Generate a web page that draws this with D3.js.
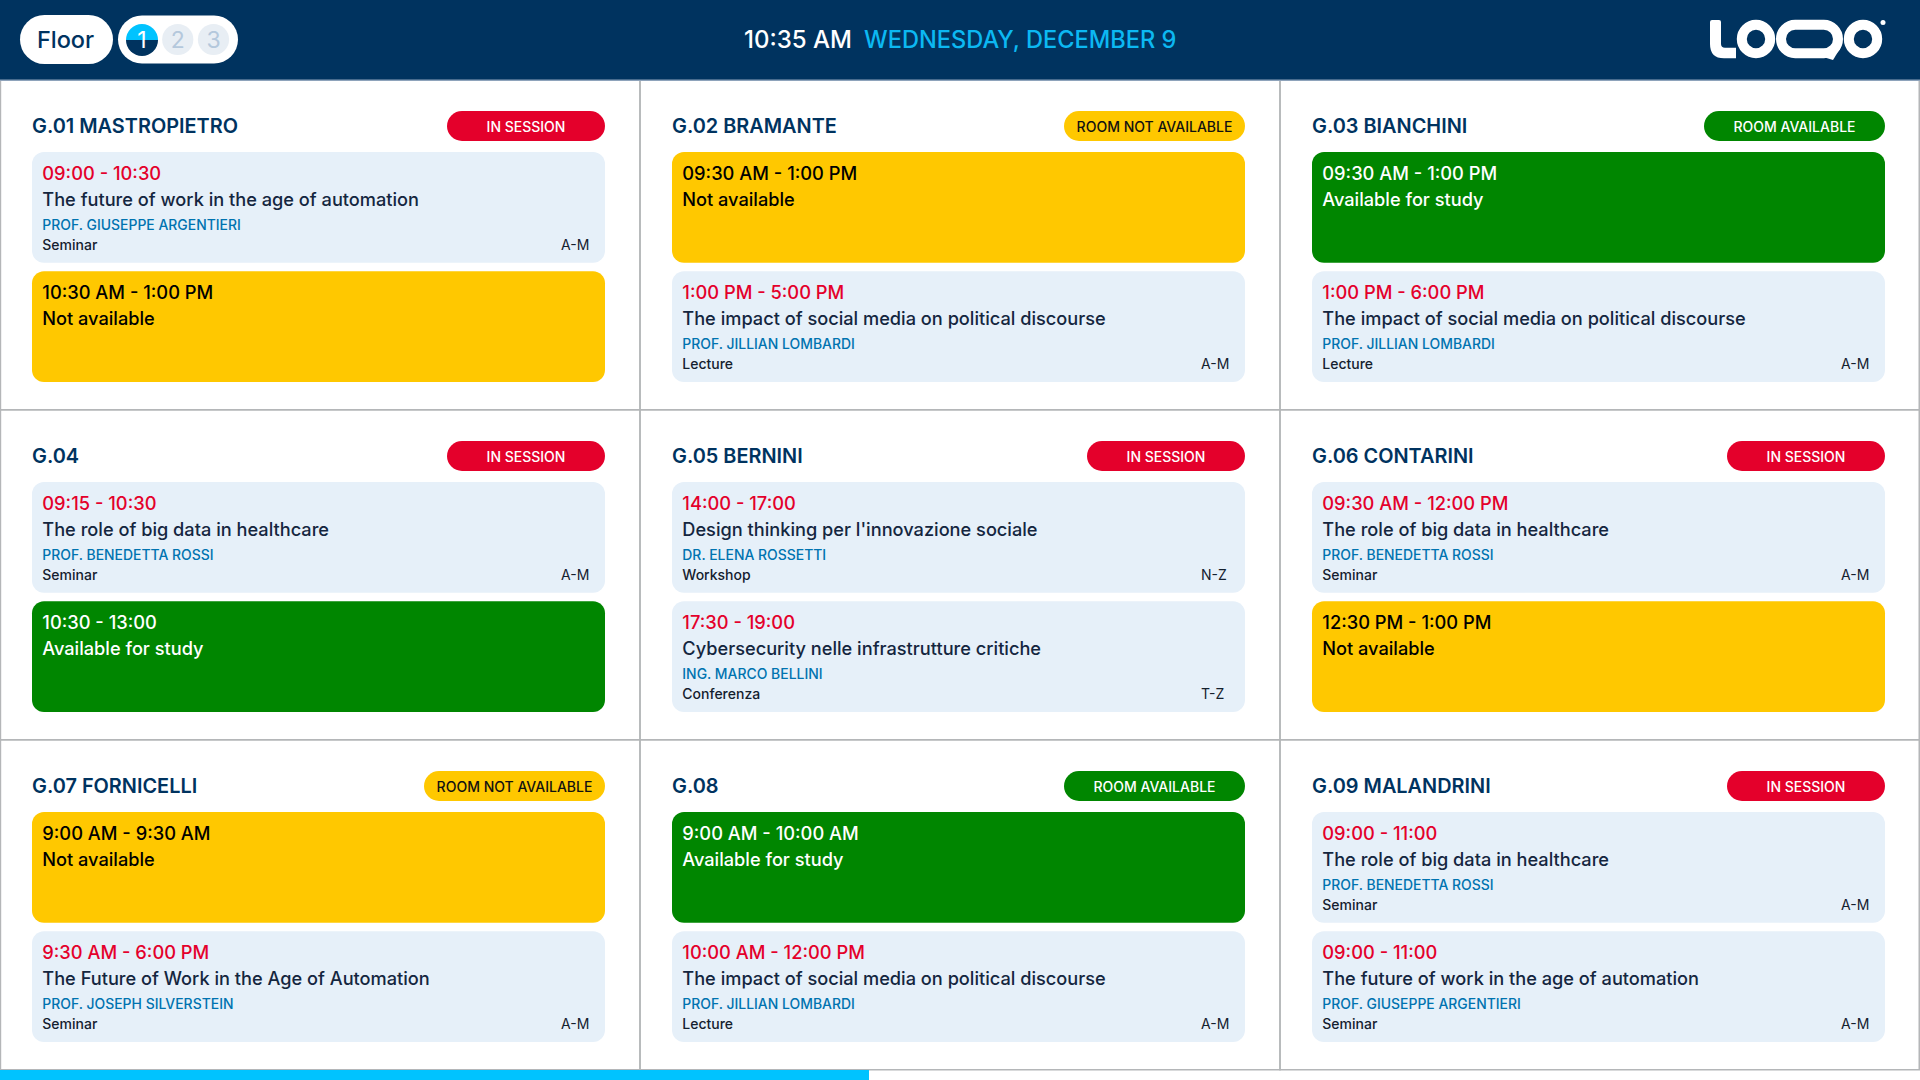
<!DOCTYPE html>
<html>
<head>
<meta charset="utf-8">
<script src="https://cdn.jsdelivr.net/npm/d3@7"></script>
<style>
html, body { margin: 0; padding: 0; background: #fff; overflow: hidden; }
text { font-family: Inter, sans-serif; }
</style>
</head>
<body>
<div id="chart-area"></div>
<script>
var width = 1920, height = 1080;

// One entry per room, left to right and top to bottom
var roomNames = ["G.01 MASTROPIETRO", "G.02 BRAMANTE", "G.03 BIANCHINI", "G.04", "G.05 BERNINI", "G.06 CONTARINI", "G.07 FORNICELLI", "G.08", "G.09 MALANDRINI"];
var roomStatus = ["IN SESSION", "ROOM NOT AVAILABLE", "ROOM AVAILABLE", "IN SESSION", "IN SESSION", "IN SESSION", "ROOM NOT AVAILABLE", "ROOM AVAILABLE", "IN SESSION"];

// Two slots per room
var slotTimes = [
    ["09:00 - 10:30", "10:30 AM - 1:00 PM"],
    ["09:30 AM - 1:00 PM", "1:00 PM - 5:00 PM"],
    ["09:30 AM - 1:00 PM", "1:00 PM - 6:00 PM"],
    ["09:15 - 10:30", "10:30 - 13:00"],
    ["14:00 - 17:00", "17:30 - 19:00"],
    ["09:30 AM - 12:00 PM", "12:30 PM - 1:00 PM"],
    ["9:00 AM - 9:30 AM", "9:30 AM - 6:00 PM"],
    ["9:00 AM - 10:00 AM", "10:00 AM - 12:00 PM"],
    ["09:00 - 11:00", "09:00 - 11:00"]
];
var slotTitles = [
    ["The future of work in the age of automation", "Not available"],
    ["Not available", "The impact of social media on political discourse"],
    ["Available for study", "The impact of social media on political discourse"],
    ["The role of big data in healthcare", "Available for study"],
    ["Design thinking per l'innovazione sociale", "Cybersecurity nelle infrastrutture critiche"],
    ["The role of big data in healthcare", "Not available"],
    ["Not available", "The Future of Work in the Age of Automation"],
    ["Available for study", "The impact of social media on political discourse"],
    ["The role of big data in healthcare", "The future of work in the age of automation"]
];
var slotTeachers = [
    ["PROF. GIUSEPPE ARGENTIERI", ""],
    ["", "PROF. JILLIAN LOMBARDI"],
    ["", "PROF. JILLIAN LOMBARDI"],
    ["PROF. BENEDETTA ROSSI", ""],
    ["DR. ELENA ROSSETTI", "ING. MARCO BELLINI"],
    ["PROF. BENEDETTA ROSSI", ""],
    ["", "PROF. JOSEPH SILVERSTEIN"],
    ["", "PROF. JILLIAN LOMBARDI"],
    ["PROF. BENEDETTA ROSSI", "PROF. GIUSEPPE ARGENTIERI"]
];
var slotKinds = [
    ["Seminar", ""],
    ["", "Lecture"],
    ["", "Lecture"],
    ["Seminar", ""],
    ["Workshop", "Conferenza"],
    ["Seminar", ""],
    ["", "Seminar"],
    ["", "Lecture"],
    ["Seminar", "Seminar"]
];
var slotGroups = [
    ["A-M", ""],
    ["", "A-M"],
    ["", "A-M"],
    ["A-M", ""],
    ["N-Z", "T-Z"],
    ["A-M", ""],
    ["", "A-M"],
    ["", "A-M"],
    ["A-M", "A-M"]
];

var floors = ["1", "2", "3"];
var clockText = "10:35 AM";
var dateText = "WEDNESDAY, DECEMBER 9";
var progressShare = 0.4526;

var navy = "#00335f", cyan = "#00c3ff", red = "#e4002b", yellow = "#ffc800", green = "#008600", pale = "#e6f0f9", gridGrey = "#b4b6b8";

var statusFill = d3.scaleOrdinal()
    .domain(["IN SESSION", "ROOM NOT AVAILABLE", "ROOM AVAILABLE"])
    .range([red, yellow, green]);
var statusText = d3.scaleOrdinal()
    .domain(["IN SESSION", "ROOM NOT AVAILABLE", "ROOM AVAILABLE"])
    .range(["#fff", "#111", "#fff"]);

var headerH = 80, footerH = 10;

var svg = d3.select("#chart-area")
    .append("svg")
        .attr("width", width)
        .attr("height", height)
        .style("display", "block");

// Grid scales
var col = d3.scaleBand().domain(d3.range(3)).range([0, width]);
var row = d3.scaleBand().domain(d3.range(3)).range([headerH, height - footerH]);

var rooms = roomNames.map(function(name, i) {
    return { name: name, status: roomStatus[i], i: i, c: i % 3, r: Math.floor(i / 3) };
});

// Cell borders
svg.selectAll("rect.cell")
    .data(rooms)
    .enter()
    .append("rect")
        .attr("class", "cell")
        .attr("x", function(d) { return col(d.c); })
        .attr("y", function(d) { return row(d.r) - 0.25; })
        .attr("width", col.bandwidth())
        .attr("height", row.bandwidth())
        .attr("fill", "none")
        .attr("stroke", gridGrey)
        .attr("stroke-width", 1.5);
svg.append("rect")
    .attr("width", 1.2).attr("y", headerH).attr("height", height - headerH - footerH)
    .attr("fill", gridGrey);
svg.append("rect")
    .attr("x", width - 1.5).attr("y", headerH).attr("width", 1.5).attr("height", height - headerH - footerH)
    .attr("fill", gridGrey);

// Header
svg.append("rect").attr("width", width).attr("height", headerH).attr("fill", navy);
svg.append("rect").attr("y", headerH - 0.5).attr("width", width).attr("height", 1.5).attr("fill", "#8ea3bb");

svg.append("rect").attr("x", 20).attr("y", 15).attr("width", 93).attr("height", 49).attr("rx", 24.5).attr("fill", "#fff");
svg.append("text").attr("x", 65.5).attr("y", 48).attr("text-anchor", "middle")
    .attr("font-size", 23.5).attr("font-weight", 500).attr("fill", navy).text("Floor");
svg.append("rect").attr("x", 118).attr("y", 15.5).attr("width", 120).attr("height", 48).attr("rx", 24).attr("fill", "#fff");

var floorX = d3.scalePoint().domain(floors).range([142, 213.5]);

// Active floor is a half cyan, half navy disc
var arc = d3.arc().innerRadius(0).outerRadius(16);
svg.append("path").attr("transform", "translate(142,40)").attr("fill", cyan)
    .attr("d", arc({ startAngle: -Math.PI / 2, endAngle: Math.PI / 2 }));
svg.append("path").attr("transform", "translate(142,40)").attr("fill", navy)
    .attr("d", arc({ startAngle: Math.PI / 2, endAngle: Math.PI * 1.5 }));
svg.selectAll("circle.floor")
    .data(floors.slice(1))
    .enter()
    .append("circle")
        .attr("class", "floor")
        .attr("cx", function(d) { return floorX(d); })
        .attr("cy", 39.5)
        .attr("r", 15.6)
        .attr("fill", "#e8eef4");
svg.selectAll("text.floor")
    .data(floors)
    .enter()
    .append("text")
        .attr("class", "floor")
        .attr("x", function(d) { return floorX(d); })
        .attr("y", 48)
        .attr("text-anchor", "middle")
        .attr("font-size", 23)
        .attr("fill", function(d) { return d === "1" ? "#fff" : "#b4c8dc"; })
        .text(function(d) { return d; });

// Clock and date
var clock = svg.append("text").attr("x", 744).attr("y", 48).attr("font-size", 24).attr("font-weight", 500);
clock.append("tspan").attr("fill", "#fff").text(clockText);
clock.append("tspan").attr("x", 864).attr("fill", "#0cb8f2").attr("font-size", 23.6).text(dateText);

// Logo, drawn as outlines
var logo = svg.append("g").attr("fill", "none").attr("stroke", "#fff").attr("stroke-width", 10);
svg.append("path").attr("fill", "#fff")
    .attr("d", "M1710,22Q1710,20 1712,20H1719Q1721,20 1721,22V44Q1721,47.7 1725,47.7H1736V58.3H1724Q1710,58.3 1710,44Z");
logo.append("circle").attr("cx", 1756).attr("cy", 39).attr("r", 14.2);
logo.append("rect").attr("x", 1781).attr("y", 24.8).attr("width", 57).attr("height", 28.4).attr("rx", 14.2);
svg.append("path").attr("fill", "#fff").attr("d", "M1820,56L1833,60L1841,47Z");
logo.append("circle").attr("cx", 1863).attr("cy", 39).attr("r", 14.2);
svg.append("circle").attr("cx", 1883).attr("cy", 22.5).attr("r", 2.5).attr("fill", "#fff");

// Rooms
var cells = svg.selectAll("g.room")
    .data(rooms)
    .enter()
    .append("g")
        .attr("class", "room")
        .attr("transform", function(d) { return "translate(" + col(d.c) + "," + row(d.r) + ")"; });

var boxX = 32, boxW = 573, pillH = 30;
var slotY = d3.scaleBand().domain([0, 1]).range([72, 302]).paddingInner(0.07);

cells.append("text")
    .attr("x", 32)
    .attr("y", 53)
    .attr("font-size", 19.9)
    .attr("font-weight", 600)
    .attr("fill", navy)
    .text(function(d) { return d.name; });

var pillWidth = d3.scaleOrdinal()
    .domain(["IN SESSION", "ROOM NOT AVAILABLE", "ROOM AVAILABLE"])
    .range([158, 181, 181]);

cells.append("rect")
    .attr("x", function(d) { return boxX + boxW - pillWidth(d.status); })
    .attr("y", 31)
    .attr("width", function(d) { return pillWidth(d.status); })
    .attr("height", pillH)
    .attr("rx", pillH / 2)
    .attr("fill", function(d) { return statusFill(d.status); });
cells.append("text")
    .attr("x", function(d) { return boxX + boxW - pillWidth(d.status) / 2; })
    .attr("y", 51.5)
    .attr("text-anchor", "middle")
    .attr("font-size", 14)
    .attr("font-weight", 500)
    .attr("fill", function(d) { return statusText(d.status); })
    .text(function(d) { return d.status; });

var slots = cells.selectAll("g.slot")
    .data(function(d) {
        return [0, 1].map(function(k) {
            var title = slotTitles[d.i][k];
            return {
                k: k,
                time: slotTimes[d.i][k],
                title: title,
                teacher: slotTeachers[d.i][k],
                kind: slotKinds[d.i][k],
                group: slotGroups[d.i][k],
                type: title === "Not available" ? "busy" : title === "Available for study" ? "free" : "class"
            };
        });
    })
    .enter()
    .append("g")
        .attr("class", "slot")
        .attr("transform", function(d) { return "translate(" + boxX + "," + slotY(d.k) + ")"; });

slots.append("rect")
    .attr("width", boxW)
    .attr("height", slotY.bandwidth())
    .attr("rx", 12)
    .attr("fill", function(d) { return d.type === "busy" ? yellow : d.type === "free" ? green : pale; });

slots.append("text")
    .attr("x", 10.3)
    .attr("y", 28)
    .attr("font-size", 18.3)
    .attr("font-weight", 500)
    .attr("fill", function(d) { return d.type === "busy" ? "#000" : d.type === "free" ? "#fff" : red; })
    .text(function(d) { return d.time; });

slots.append("text")
    .attr("x", 10.3)
    .attr("y", 53.8)
    .attr("font-size", 18.2)
    .attr("font-weight", 500)
    .attr("fill", function(d) { return d.type === "busy" ? "#000" : d.type === "free" ? "#fff" : "#14263f"; })
    .text(function(d) { return d.title; });

slots.append("text")
    .attr("x", 10.3)
    .attr("y", 77.5)
    .attr("font-size", 13.95)
    .attr("font-weight", 500)
    .attr("fill", "#0073b0")
    .text(function(d) { return d.teacher; });

slots.append("text")
    .attr("x", 10.3)
    .attr("y", 98)
    .attr("font-size", 14)
    .attr("font-weight", 500)
    .attr("fill", "#14202e")
    .text(function(d) { return d.kind; });

slots.append("text")
    .attr("x", 529)
    .attr("y", 98)
    .attr("font-size", 14)
    .attr("fill", "#14202e")
    .text(function(d) { return d.group; });

// Progress bar
var progress = d3.scaleLinear().domain([0, 1]).range([0, width]);
svg.append("rect")
    .attr("y", height - footerH)
    .attr("width", progress(progressShare))
    .attr("height", footerH)
    .attr("fill", cyan);
</script>
</body>
</html>
